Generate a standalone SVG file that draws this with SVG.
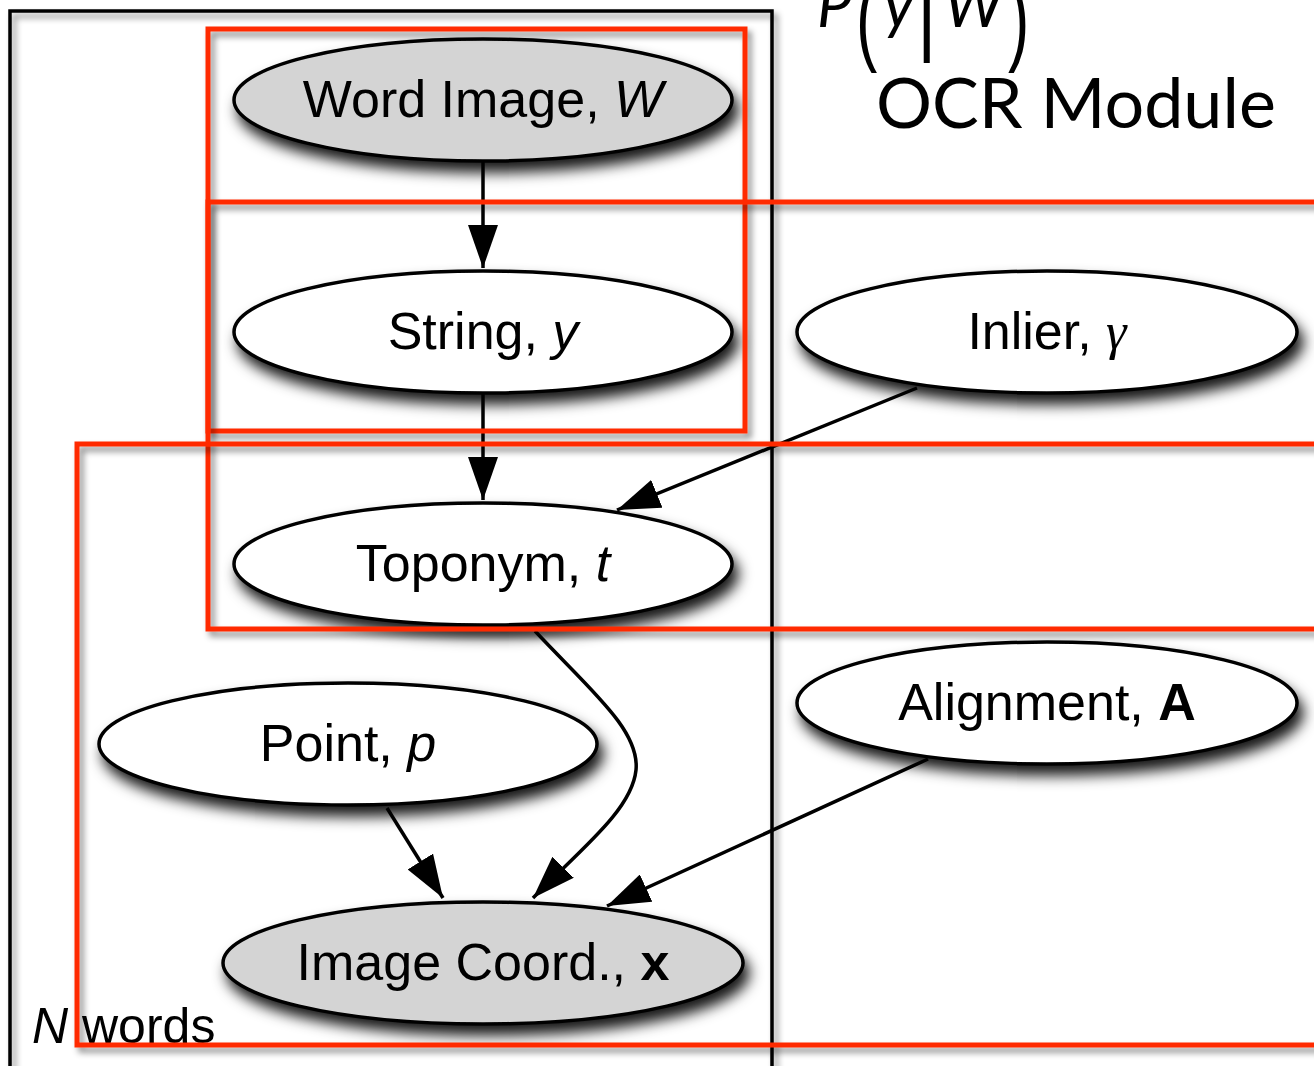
<svg xmlns="http://www.w3.org/2000/svg" width="1314" height="1066" viewBox="0 0 1314 1066">
  <defs>
    <filter id="shadow" x="-20%" y="-30%" width="140%" height="180%">
      <feDropShadow dx="5" dy="10" stdDeviation="7" flood-color="#000" flood-opacity="0.9"/>
    </filter>
    <filter id="boxShadow" x="-5%" y="-5%" width="110%" height="110%">
      <feDropShadow dx="4" dy="5" stdDeviation="3" flood-color="#000" flood-opacity="0.45"/>
    </filter>
    <marker id="arrow" markerUnits="userSpaceOnUse" markerWidth="44" markerHeight="30" refX="43" refY="15" orient="auto">
      <path d="M0,0 L43,15 L0,30 Z" fill="#000"/>
    </marker>
    <style>
      .node { stroke: #000; stroke-width: 3.5; }
      .obs { fill: #d4d4d4; }
      .hid { fill: #fff; }
      .label { font-family: "Liberation Sans", Arial, sans-serif; font-size: 52px; text-anchor: middle; fill: #000; }
      .edge { fill: none; stroke: #000; stroke-width: 3.5; marker-end: url(#arrow); }
      .module { fill: none; stroke: #ff2a00; stroke-width: 5; }
      .gill { font-family: "Lato", "Liberation Sans", sans-serif; fill: #000; }
      .paren { font-family: "Liberation Sans", sans-serif; font-size: 80px; fill: #000; }
    </style>
  </defs>

  <rect width="1314" height="1066" fill="#fff"/>

  <!-- plate: N words -->
  <g id="plate">
    <rect x="10" y="11" width="762" height="1080" fill="none" stroke="#000" stroke-width="3.5" filter="url(#boxShadow)"/>
    <text x="32" y="1043" font-family="'Liberation Sans', Arial, sans-serif" font-size="50"><tspan font-style="italic">N</tspan> words</text>
  </g>

  <!-- module title: P(y|W) over "OCR Module" -->
  <g id="ocr-title">
    <text class="gill" x="817" y="27" font-size="62" font-style="italic">P</text>
    <text class="paren" transform="translate(856,52) scale(0.8,1.25)">(</text>
    <text class="gill" x="884" y="27" font-size="62" font-style="italic">y</text>
    <text x="917" y="48" font-family="'Liberation Sans', sans-serif" font-size="75">|</text>
    <text class="gill" x="944" y="27" font-size="62" font-style="italic">W</text>
    <text class="paren" transform="translate(1008,52) scale(0.8,1.25)">)</text>
    <text class="gill" x="876" y="128" font-size="70">OCR Module</text>
  </g>

  <!-- connectors -->
  <g id="connectors">
    <line class="edge" x1="483" y1="162" x2="483" y2="268"/>
    <line class="edge" x1="483" y1="394" x2="483" y2="500"/>
    <line class="edge" x1="917" y1="388" x2="617" y2="510"/>
    <path class="edge" d="M535,631 C590,690 640,730 636,770 C632,810 580,850 533,898"/>
    <line class="edge" x1="387" y1="808" x2="443" y2="898"/>
    <line class="edge" x1="928" y1="759" x2="607" y2="906"/>
  </g>

  <!-- nodes -->
  <g id="node-word-image">
    <ellipse class="node obs" cx="483" cy="100" rx="249" ry="61" filter="url(#shadow)"/>
    <text class="label" x="483" y="117">Word Image, <tspan font-style="italic">W</tspan></text>
  </g>
  <g id="node-string">
    <ellipse class="node hid" cx="483" cy="332" rx="249" ry="61" filter="url(#shadow)"/>
    <text class="label" x="483" y="349">String, <tspan font-style="italic">y</tspan></text>
  </g>
  <g id="node-inlier">
    <ellipse class="node hid" cx="1047" cy="332" rx="250" ry="61" filter="url(#shadow)"/>
    <text class="label" x="1047" y="349">Inlier, <tspan font-family="'Liberation Serif', serif" font-style="italic">γ</tspan></text>
  </g>
  <g id="node-toponym">
    <ellipse class="node hid" cx="483" cy="564" rx="249" ry="61" filter="url(#shadow)"/>
    <text class="label" x="483" y="581">Toponym, <tspan font-style="italic">t</tspan></text>
  </g>
  <g id="node-point">
    <ellipse class="node hid" cx="348" cy="744" rx="249" ry="61" filter="url(#shadow)"/>
    <text class="label" x="348" y="761">Point, <tspan font-style="italic">p</tspan></text>
  </g>
  <g id="node-alignment">
    <ellipse class="node hid" cx="1047" cy="703" rx="250" ry="61" filter="url(#shadow)"/>
    <text class="label" x="1047" y="720">Alignment, <tspan font-weight="bold">A</tspan></text>
  </g>
  <g id="node-image-coord">
    <ellipse class="node obs" cx="483" cy="963" rx="260" ry="61" filter="url(#shadow)"/>
    <text class="label" x="483" y="980">Image Coord., <tspan font-weight="bold">x</tspan></text>
  </g>

  <!-- module outlines -->
  <g id="modules">
    <rect class="module" x="208" y="29" width="537" height="402" filter="url(#boxShadow)"/>
    <rect class="module" x="208" y="202" width="1130" height="427" filter="url(#boxShadow)"/>
    <rect class="module" x="77" y="444" width="1260" height="601" filter="url(#boxShadow)"/>
  </g>
</svg>
